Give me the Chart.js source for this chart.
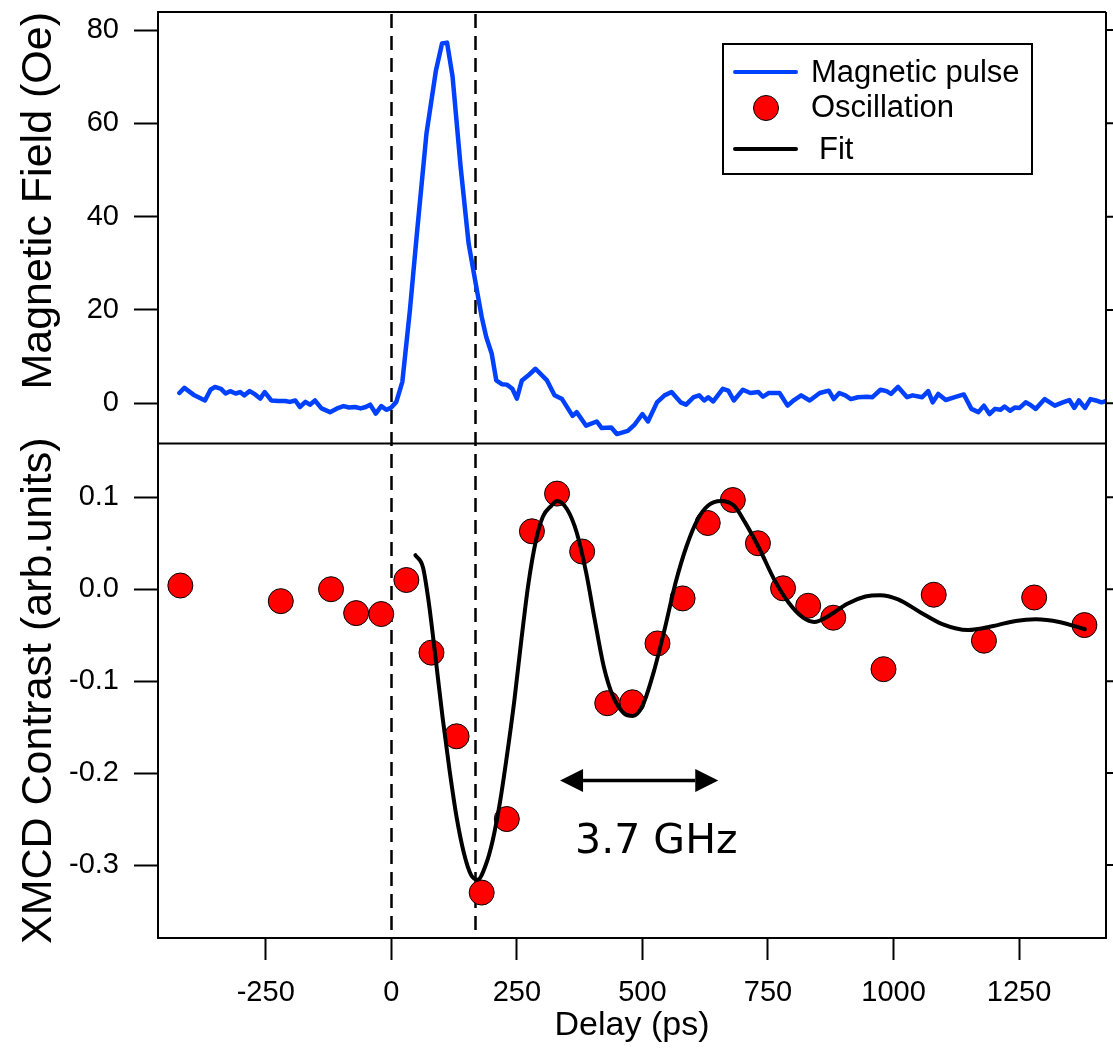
<!DOCTYPE html>
<html>
<head>
<meta charset="utf-8">
<title>Magnetic pulse and XMCD oscillation</title>
<script src="https://cdn.jsdelivr.net/npm/chart.js@4.4.1/dist/chart.umd.min.js"></script>
<style>
  html, body { margin: 0; padding: 0; background: #fff; }
  canvas { display: block; }
</style>
</head>
<body>
<canvas id="chart" width="1113" height="1052"></canvas>
<script>
// Magnetic pulse (top panel)
const pulseDelay = [-422, -412, -392, -371, -360, -351, -339, -330, -321, -310, -301, -293, -282, -271, -261, -252,
  -239, -225, -211, -202, -191, -182, -171, -162, -152, -139, -122, -108, -95, -84, -72, -61, -51, -42, -31, -20,
  -10, -1, 10, 22, 37, 51, 70, 89, 101, 111, 122, 138, 154, 168, 180, 189, 200, 209, 220, 230, 241, 250, 260,
  273, 287, 310, 325, 340, 361, 369, 388, 409, 419, 438, 449, 471, 485, 500, 511, 529, 544, 558, 576, 587, 602,
  613, 623, 631, 641, 660, 671, 682, 700, 715, 731, 740, 751, 773, 789, 802, 816, 833, 853, 871, 881, 892, 904,
  915, 929, 947, 958, 974, 986, 995, 1009, 1027, 1038, 1057, 1069, 1078, 1089, 1104, 1122, 1140, 1155, 1169,
  1180, 1191, 1202, 1213, 1221, 1232, 1242, 1251, 1263, 1272, 1283, 1301, 1321, 1337, 1350, 1360, 1369, 1381,
  1392, 1403, 1414, 1428];
const pulseField = [2.2, 3.3, 1.7, 0.6, 2.9, 3.5, 3.1, 2.1, 2.6, 2.1, 2.4, 1.7, 2.6, 1.9, 1.0, 2.4,
  0.6, 0.5, 0.5, 0.3, 0.6, -0.8, 0.3, -0.3, 0.6, -1.1, -1.9, -1.1, -0.6, -0.9, -0.8, -1.1, -0.8, -0.3, -2.2, -0.6,
  -1.4, -1.0, 0.3, 4.6, 19.9, 36.4, 57.8, 71.4, 77.1, 77.3, 70.0, 50.7, 34.2, 25.7, 18.5, 14.2, 10.6, 4.9, 4.1, 4.0, 3.1, 1.0, 4.9,
  6.0, 7.4, 4.9, 1.7, 0.9, -2.7, -1.9, -4.8, -3.9, -5.3, -5.2, -6.6, -5.9, -4.5, -2.3, -3.9, 0.2, 1.7, 2.4, 0.2, -0.3, 1.3,
  1.7, 0.6, 1.3, 0.4, 3.1, 2.7, 0.6, 2.9, 2.2, 2.4, 1.4, 2.2, 2.2, -0.5, 0.7, 1.7, 0.6, 2.2, 2.7, 0.9, 2.2, 1.7,
  0.9, 1.3, 1.4, 1.3, 2.9, 2.6, 2.0, 3.5, 1.3, 1.7, 1.3, 2.6, 0.2, 2.0, 0.7, 1.3, 1.9, -1.2, -1.9,
  -0.5, -2.3, -1.2, -1.4, -0.7, -1.6, -0.9, -1.0, 0.2, -0.3, -1.2, 0.9, -0.5, 0.2, 0.7, -1.0, 0.6, -1.0,
  0.9, 0.6, 0.2, 0.6];

// XMCD oscillation points (bottom panel)
const oscDelay = [-420, -220, -120, -70, -20, 30, 80, 130, 180, 230, 280, 330, 380, 430, 480, 530, 580, 630,
  680, 730, 780, 830, 880, 980, 1080, 1180, 1280, 1380];
const oscXmcd = [0.004, -0.013, 0.000, -0.026, -0.027, 0.010, -0.069, -0.160, -0.330, -0.250, 0.063, 0.104, 0.041,
  -0.124, -0.123, -0.059, -0.010, 0.072, 0.097, 0.050, 0.001, -0.018, -0.031, -0.087, -0.006, -0.056, -0.009, -0.039];

// damped-oscillation fit
const fitDelay = [48, 63, 74, 88, 102, 116, 130, 145, 159, 172, 188, 202, 216, 230, 245, 259, 273, 288, 302, 319,
  330, 350, 369, 388, 405, 423, 441, 463, 481, 500, 522, 544, 566, 588, 610, 631, 656, 682, 704, 733, 762, 791,
  820, 842, 871, 907, 944, 973, 1009, 1053, 1097, 1148, 1199, 1243, 1283, 1330, 1381];
const fitXmcd = [0.037, 0.024, -0.012, -0.074, -0.139, -0.197, -0.248, -0.288, -0.311, -0.316, -0.300, -0.273,
  -0.233, -0.182, -0.121, -0.055, 0.006, 0.053, 0.079, 0.091, 0.096, 0.087, 0.062, 0.018, -0.033, -0.084, -0.116,
  -0.135, -0.138, -0.127, -0.091, -0.044, 0.007, 0.047, 0.076, 0.091, 0.096, 0.091, 0.073, 0.044, 0.011, -0.0145,
  -0.031, -0.0356, -0.029, -0.016, -0.008, -0.0065, -0.011, -0.025, -0.038, -0.0444, -0.040, -0.0345, -0.0327,
  -0.0356, -0.0436];

// axes
const delayTicks = [-250, 0, 250, 500, 750, 1000, 1250];
const fieldTicks = [0, 20, 40, 60, 80];
const xmcdTicks = [-0.3, -0.2, -0.1, 0.0, 0.1];
const pulseMarks = [0, 166];          // dashed vertical lines (ps)
const periodArrow = [336, 651];       // "3.7 GHz" arrow span (ps)
const periodArrowLevel = -0.208;
const periodLabelAt = [366, -0.287];

const FONT = "'Liberation Sans', Arial, sans-serif";
const BLUE = '#0040ff';

function fixedTicks(values) {
  return scale => { scale.ticks = values.map(v => ({ value: v })); };
}

const decorations = {
  id: 'decorations',
  beforeDatasetsDraw(chart) {
    const { ctx, chartArea: a, scales: { x } } = chart;
    ctx.save();
    ctx.strokeStyle = '#000';
    ctx.lineWidth = 2.5;
    ctx.setLineDash([14, 8]);
    pulseMarks.forEach(d => {
      const px = Math.round(x.getPixelForValue(d)) + 0.5;
      ctx.beginPath();
      ctx.moveTo(px, a.top + 2);
      ctx.lineTo(px, a.bottom);
      ctx.stroke();
    });
    ctx.restore();
  },
  afterDatasetsDraw(chart) {
    const { ctx, chartArea: a, scales: { x, yField, yXmcd } } = chart;
    ctx.save();
    ctx.strokeStyle = '#000';
    ctx.fillStyle = '#000';
    ctx.lineWidth = 2;

    // frame: top, right, panel separator
    ctx.beginPath();
    ctx.moveTo(a.left, a.top); ctx.lineTo(a.right, a.top);
    ctx.moveTo(a.right, a.top); ctx.lineTo(a.right, a.bottom);
    ctx.moveTo(a.left, yXmcd.top); ctx.lineTo(a.right, yXmcd.top);
    ctx.stroke();

    // mirror ticks on the right edge
    ctx.beginPath();
    [[yField, fieldTicks], [yXmcd, xmcdTicks]].forEach(([s, vals]) => {
      vals.forEach(v => {
        const py = s.getPixelForValue(v);
        ctx.moveTo(a.right, py); ctx.lineTo(a.right + 24, py);
      });
    });
    ctx.stroke();

    // period arrow
    const x0 = x.getPixelForValue(periodArrow[0]);
    const x1 = x.getPixelForValue(periodArrow[1]);
    const ay = yXmcd.getPixelForValue(periodArrowLevel);
    const head = 23, half = 11.5;
    ctx.lineWidth = 3.5;
    ctx.beginPath();
    ctx.moveTo(x0 + head, ay); ctx.lineTo(x1 - head, ay);
    ctx.stroke();
    ctx.beginPath();
    ctx.moveTo(x0, ay); ctx.lineTo(x0 + head, ay - half); ctx.lineTo(x0 + head, ay + half); ctx.closePath();
    ctx.moveTo(x1, ay); ctx.lineTo(x1 - head, ay - half); ctx.lineTo(x1 - head, ay + half); ctx.closePath();
    ctx.fill();

    ctx.font = "41px 'Comic Sans MS', 'DejaVu Sans', sans-serif";
    ctx.textAlign = 'left';
    ctx.textBaseline = 'alphabetic';
    ctx.fillText('3.7 GHz', x.getPixelForValue(periodLabelAt[0]), yXmcd.getPixelForValue(periodLabelAt[1]));

    // legend box
    ctx.lineWidth = 2;
    ctx.strokeRect(723, 44, 309, 130);
    ctx.lineCap = 'round';
    ctx.lineWidth = 4;
    ctx.strokeStyle = BLUE;
    ctx.beginPath(); ctx.moveTo(735, 72); ctx.lineTo(796, 72); ctx.stroke();
    ctx.strokeStyle = '#000';
    ctx.beginPath(); ctx.moveTo(735, 149); ctx.lineTo(796, 149); ctx.stroke();
    ctx.lineCap = 'butt';
    ctx.beginPath(); ctx.arc(766, 108, 12.5, 0, Math.PI * 2);
    ctx.fillStyle = '#ff0000'; ctx.fill();
    ctx.lineWidth = 1; ctx.strokeStyle = '#000'; ctx.stroke();

    ctx.fillStyle = '#000';
    ctx.font = '31px ' + FONT;
    ctx.fillText('Magnetic pulse', 811, 82);
    ctx.fillText('Oscillation', 811, 117);
    ctx.fillText('Fit', 819, 159);
    ctx.restore();
  }
};

const axisGrid = len => ({
  drawOnChartArea: false, drawTicks: true, tickLength: len, tickWidth: 2, tickColor: '#000'
});
const axisBorder = { display: true, color: '#000', width: 2 };
const tickFont = { family: FONT, size: 29 };

new Chart(document.getElementById('chart').getContext('2d'), {
  data: {
    datasets: [
      {
        type: 'line', label: 'Fit', yAxisID: 'yXmcd', order: 0,
        data: fitDelay.map((d, i) => ({ x: d, y: fitXmcd[i] })),
        borderColor: '#000', borderWidth: 4, pointRadius: 0, fill: false,
        cubicInterpolationMode: 'monotone', borderCapStyle: 'round', borderJoinStyle: 'round'
      },
      {
        type: 'scatter', label: 'Oscillation', yAxisID: 'yXmcd', order: 1,
        data: oscDelay.map((d, i) => ({ x: d, y: oscXmcd[i] })),
        backgroundColor: '#ff0000', borderColor: '#000', borderWidth: 1, pointRadius: 12.5
      },
      {
        type: 'line', label: 'Magnetic pulse', yAxisID: 'yField', order: 2,
        data: pulseDelay.map((d, i) => ({ x: d, y: pulseField[i] })),
        borderColor: BLUE, borderWidth: 4.5, pointRadius: 0, tension: 0, fill: false,
        borderJoinStyle: 'round', borderCapStyle: 'round'
      }
    ]
  },
  options: {
    responsive: false,
    devicePixelRatio: 1,
    animation: false,
    events: [],
    layout: { autoPadding: false, padding: { left: 0, top: 12, right: 7, bottom: 0 } },
    plugins: { legend: { display: false }, tooltip: { enabled: false } },
    scales: {
      x: {
        type: 'linear', position: 'bottom', min: -464.5, max: 1423,
        afterBuildTicks: fixedTicks(delayTicks),
        afterFit: s => { s.height = 114; s.paddingLeft = 0; s.paddingRight = 0; },
        grid: axisGrid(22), border: axisBorder,
        ticks: { color: '#000', font: tickFont, padding: 16, maxRotation: 0, autoSkip: false, callback: v => String(v) },
        title: { display: true, text: 'Delay (ps)', color: '#000', font: { family: FONT, size: 34 }, padding: { top: 0, bottom: 6 } }
      },
      yField: {
        type: 'linear', position: 'left', stack: 'panels', stackWeight: 431.5, weight: 2,
        min: -8.62, max: 83.86,
        afterBuildTicks: fixedTicks(fieldTicks),
        afterFit: s => { s.width = 158; s.paddingTop = 0; s.paddingBottom = 0; },
        grid: axisGrid(24), border: axisBorder,
        ticks: { color: '#000', font: tickFont, padding: 15, callback: v => String(v) },
        title: { display: true, text: 'Magnetic Field (Oe)', align: 'end', color: '#000', font: { family: FONT, size: 43 }, padding: { top: 13, bottom: 0 } }
      },
      yXmcd: {
        type: 'linear', position: 'left', stack: 'panels', stackWeight: 494.5, weight: 1,
        min: -0.3794, max: 0.1585,
        afterBuildTicks: fixedTicks(xmcdTicks),
        afterFit: s => { s.width = 158; s.paddingTop = 0; s.paddingBottom = 0; },
        grid: axisGrid(24), border: axisBorder,
        ticks: { color: '#000', font: tickFont, padding: 15, callback: v => v.toFixed(1) },
        title: { display: true, text: 'XMCD Contrast (arb.units)', color: '#000', font: { family: FONT, size: 43 }, padding: { top: 13, bottom: 0 } }
      }
    }
  },
  plugins: [decorations]
});
</script>
</body>
</html>
